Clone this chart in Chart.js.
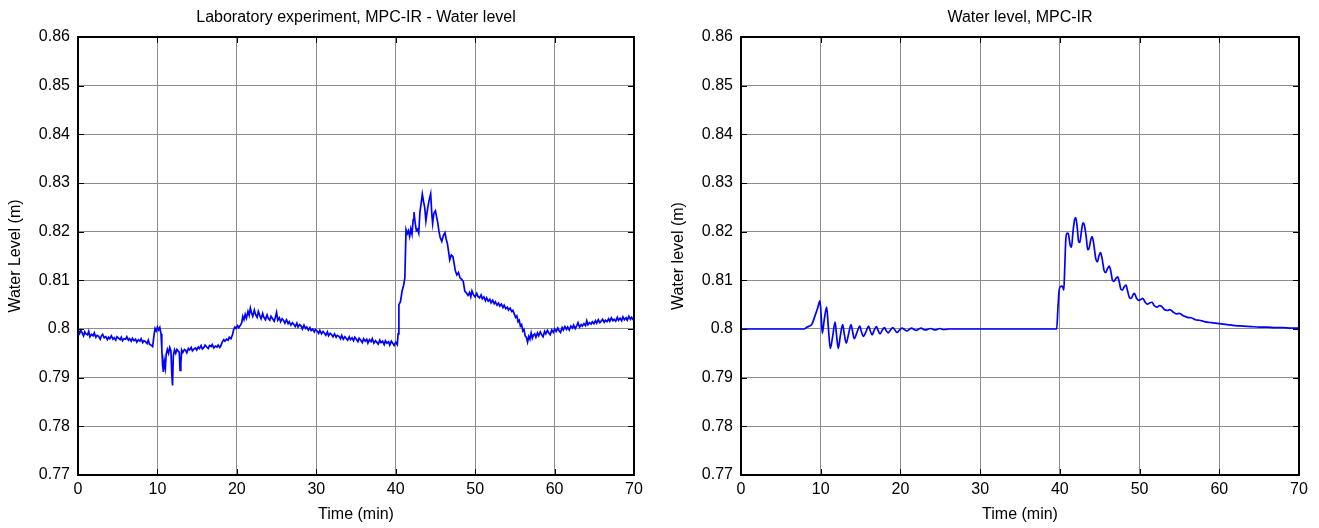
<!DOCTYPE html>
<html>
<head>
<meta charset="utf-8">
<title>Water level, MPC-IR</title>
<script src="https://cdn.jsdelivr.net/npm/chart.js@4/dist/chart.umd.min.js"></script>
<style>
  body { margin: 0; background: #fff; }
  .panel { position: absolute; top: 0; }
</style>
</head>
<body>
<div class="panel" style="left:0"><canvas id="labChart" width="660" height="528"></canvas></div>
<div class="panel" style="left:660px"><canvas id="simChart" width="659" height="528"></canvas></div>
<script>
// axis ticks shared by both panels
const timeTicks = [0, 10, 20, 30, 40, 50, 60, 70];
const levelTicks = [0.77, 0.78, 0.79, 0.80, 0.81, 0.82, 0.83, 0.84, 0.85, 0.86];

// Laboratory experiment: [time (min), water level (m)]
const labPoints = [
  [0, 0.7999], [0.2, 0.7991], [0.35, 0.7997], [0.5, 0.7993], [0.7, 0.7986], [0.85, 0.7994],
  [1.0, 0.7990], [1.2, 0.7988], [1.35, 0.7995], [1.5, 0.7984], [1.7, 0.7989], [1.9, 0.7986],
  [2.05, 0.7992], [2.25, 0.7983], [2.4, 0.7987], [2.6, 0.7985], [2.8, 0.7979], [2.95, 0.7986],
  [3.1, 0.7989], [3.3, 0.7982], [3.5, 0.7984], [3.7, 0.7978], [3.85, 0.7983], [4.0, 0.7980],
  [4.2, 0.7986], [4.4, 0.7979], [4.55, 0.7982], [4.75, 0.7977], [4.9, 0.7984], [5.1, 0.7981],
  [5.3, 0.7978], [5.45, 0.7983], [5.6, 0.7976], [5.8, 0.7980], [6.0, 0.7979], [6.15, 0.7984],
  [6.35, 0.7977], [6.5, 0.7980], [6.7, 0.7975], [6.85, 0.7981], [7.05, 0.7976], [7.25, 0.7979],
  [7.4, 0.7973], [7.6, 0.7978], [7.8, 0.7975], [7.95, 0.7980], [8.15, 0.7972], [8.3, 0.7976],
  [8.5, 0.7974], [8.7, 0.7970], [8.85, 0.7977], [9.0, 0.7969], [9.2, 0.7967], [9.4, 0.7964],
  [9.55, 0.7985], [9.7, 0.8001], [9.85, 0.7996], [10.0, 0.8004], [10.15, 0.7998], [10.3, 0.8003],
  [10.45, 0.7990], [10.55, 0.7960], [10.65, 0.7925], [10.75, 0.7912], [10.85, 0.7935], [11.0, 0.7920],
  [11.1, 0.7948], [11.25, 0.7958], [11.4, 0.7950], [11.55, 0.7962], [11.7, 0.7955], [11.8, 0.7910],
  [11.9, 0.7884], [12.0, 0.7945], [12.15, 0.7957], [12.3, 0.7950], [12.45, 0.7958], [12.6, 0.7955],
  [12.75, 0.7952], [12.85, 0.7915], [12.95, 0.7930], [13.05, 0.7957], [13.2, 0.7952], [13.4, 0.7958],
  [13.55, 0.7956], [13.7, 0.7951], [13.9, 0.7960], [14.05, 0.7957], [14.25, 0.7962], [14.4, 0.7955],
  [14.6, 0.7959], [14.8, 0.7961], [14.95, 0.7957], [15.15, 0.7963], [15.3, 0.7960], [15.5, 0.7966],
  [15.65, 0.7959], [15.85, 0.7962], [16.0, 0.7967], [16.2, 0.7963], [16.4, 0.7960], [16.55, 0.7966],
  [16.75, 0.7964], [16.9, 0.7968], [17.1, 0.7961], [17.3, 0.7965], [17.5, 0.7963], [17.65, 0.7967],
  [17.85, 0.7962], [18.0, 0.7966], [18.15, 0.7973], [18.35, 0.7978], [18.5, 0.7975], [18.7, 0.7979],
  [18.9, 0.7977], [19.05, 0.7983], [19.25, 0.7980], [19.45, 0.7988], [19.6, 0.7999], [19.75, 0.8004],
  [19.9, 0.8001], [20.1, 0.8007], [20.25, 0.8003], [20.45, 0.8008], [20.6, 0.8012], [20.75, 0.8026],
  [20.9, 0.8019], [21.05, 0.8030], [21.2, 0.8022], [21.4, 0.8036], [21.55, 0.8028], [21.7, 0.8043],
  [21.85, 0.8033], [22.0, 0.8026], [22.2, 0.8039], [22.35, 0.8030], [22.55, 0.8024], [22.7, 0.8036],
  [22.9, 0.8027], [23.05, 0.8021], [23.25, 0.8032], [23.4, 0.8024], [23.6, 0.8019], [23.8, 0.8029],
  [23.95, 0.8022], [24.15, 0.8018], [24.3, 0.8026], [24.5, 0.8021], [24.7, 0.8016], [24.85, 0.8024],
  [25.0, 0.8034], [25.15, 0.8018], [25.35, 0.8023], [25.5, 0.8015], [25.7, 0.8021], [25.9, 0.8017],
  [26.05, 0.8012], [26.25, 0.8019], [26.45, 0.8011], [26.6, 0.8015], [26.8, 0.8008], [27.0, 0.8013],
  [27.15, 0.8010], [27.35, 0.8005], [27.55, 0.8012], [27.7, 0.8004], [27.9, 0.8009], [28.1, 0.8006],
  [28.25, 0.8000], [28.45, 0.8008], [28.65, 0.8001], [28.8, 0.8004], [29.0, 0.7998], [29.2, 0.8003],
  [29.35, 0.7997], [29.55, 0.8000], [29.75, 0.7994], [29.9, 0.7999], [30.1, 0.7996], [30.3, 0.7991],
  [30.45, 0.7997], [30.65, 0.7990], [30.85, 0.7995], [31.0, 0.7992], [31.2, 0.7987], [31.4, 0.7994],
  [31.55, 0.7986], [31.75, 0.7991], [31.95, 0.7988], [32.1, 0.7984], [32.3, 0.7990], [32.5, 0.7983],
  [32.65, 0.7987], [32.85, 0.7985], [33.05, 0.7980], [33.2, 0.7987], [33.4, 0.7979], [33.6, 0.7984],
  [33.75, 0.7981], [33.95, 0.7977], [34.15, 0.7984], [34.3, 0.7978], [34.5, 0.7982], [34.7, 0.7976],
  [34.85, 0.7983], [35.05, 0.7979], [35.25, 0.7974], [35.4, 0.7981], [35.6, 0.7977], [35.8, 0.7972],
  [35.95, 0.7980], [36.15, 0.7975], [36.35, 0.7979], [36.5, 0.7971], [36.7, 0.7978], [36.9, 0.7974],
  [37.05, 0.7980], [37.25, 0.7971], [37.45, 0.7976], [37.6, 0.7973], [37.8, 0.7969], [38.0, 0.7977],
  [38.15, 0.7972], [38.35, 0.7975], [38.55, 0.7968], [38.7, 0.7976], [38.9, 0.7971], [39.1, 0.7974],
  [39.25, 0.7967], [39.45, 0.7975], [39.65, 0.7970], [39.8, 0.7966], [40.0, 0.7973], [40.2, 0.7968],
  [40.3, 0.7990], [40.4, 0.8050], [40.6, 0.8056], [40.8, 0.8078], [41.0, 0.8090], [41.15, 0.8105],
  [41.3, 0.8204], [41.45, 0.8196], [41.6, 0.8202], [41.75, 0.8190], [41.9, 0.8206], [42.05, 0.8195],
  [42.2, 0.8225], [42.3, 0.8240], [42.45, 0.8218], [42.6, 0.8202], [42.75, 0.8205], [42.9, 0.8197],
  [43.05, 0.8240], [43.2, 0.8258], [43.35, 0.8277], [43.5, 0.8262], [43.65, 0.8250], [43.8, 0.8222],
  [43.95, 0.8240], [44.1, 0.8255], [44.25, 0.8268], [44.4, 0.8278], [44.55, 0.8235], [44.65, 0.8217],
  [44.8, 0.8238], [45.0, 0.8243], [45.15, 0.8230], [45.3, 0.8218], [45.45, 0.8200], [45.6, 0.8188],
  [45.8, 0.8180], [46.0, 0.8192], [46.2, 0.8198], [46.35, 0.8185], [46.5, 0.8176], [46.65, 0.8160],
  [46.8, 0.8142], [47.0, 0.8152], [47.2, 0.8149], [47.35, 0.8135], [47.5, 0.8120], [47.7, 0.8111],
  [47.9, 0.8116], [48.1, 0.8105], [48.3, 0.8102], [48.5, 0.8098], [48.7, 0.8078], [48.9, 0.8074],
  [49.1, 0.8069], [49.3, 0.8075], [49.45, 0.8066], [49.6, 0.8078], [49.8, 0.8070], [50.0, 0.8066],
  [50.2, 0.8073], [50.35, 0.8067], [50.55, 0.8064], [50.75, 0.8070], [50.9, 0.8062], [51.1, 0.8066],
  [51.3, 0.8058], [51.45, 0.8064], [51.65, 0.8057], [51.85, 0.8061], [52.0, 0.8054], [52.2, 0.8059],
  [52.4, 0.8052], [52.55, 0.8056], [52.75, 0.8049], [52.95, 0.8053], [53.1, 0.8047], [53.3, 0.8051],
  [53.5, 0.8044], [53.65, 0.8049], [53.85, 0.8042], [54.05, 0.8045], [54.2, 0.8039], [54.4, 0.8043],
  [54.6, 0.8036], [54.75, 0.8038], [54.95, 0.8030], [55.1, 0.8024], [55.25, 0.8027], [55.4, 0.8015],
  [55.55, 0.8018], [55.7, 0.8006], [55.85, 0.8009], [56.0, 0.7996], [56.15, 0.7999], [56.3, 0.7986],
  [56.45, 0.7983], [56.6, 0.7973], [56.75, 0.7985], [56.9, 0.7979], [57.05, 0.7992], [57.2, 0.7981],
  [57.35, 0.7988], [57.5, 0.7990], [57.65, 0.7983], [57.85, 0.7992], [58.0, 0.7986], [58.2, 0.7994],
  [58.35, 0.7989], [58.55, 0.7984], [58.75, 0.7995], [58.9, 0.7990], [59.1, 0.7997], [59.3, 0.7991],
  [59.45, 0.7988], [59.65, 0.7998], [59.85, 0.7993], [60.0, 0.8000], [60.2, 0.7995], [60.4, 0.8002],
  [60.55, 0.7997], [60.75, 0.7993], [60.95, 0.8003], [61.1, 0.7998], [61.3, 0.8005], [61.5, 0.7999],
  [61.65, 0.8004], [61.85, 0.7998], [62.05, 0.8006], [62.25, 0.8002], [62.4, 0.8008], [62.6, 0.8001],
  [62.8, 0.8007], [62.95, 0.8013], [63.15, 0.8004], [63.35, 0.8009], [63.5, 0.8006], [63.7, 0.8011],
  [63.9, 0.8007], [64.05, 0.8017], [64.2, 0.8009], [64.4, 0.8013], [64.6, 0.8010], [64.75, 0.8015],
  [64.95, 0.8011], [65.15, 0.8017], [65.3, 0.8012], [65.5, 0.8019], [65.7, 0.8013], [65.85, 0.8016],
  [66.05, 0.8020], [66.25, 0.8014], [66.4, 0.8018], [66.6, 0.8015], [66.8, 0.8021], [66.95, 0.8016],
  [67.15, 0.8023], [67.35, 0.8017], [67.5, 0.8020], [67.7, 0.8016], [67.9, 0.8024], [68.05, 0.8018],
  [68.25, 0.8022], [68.45, 0.8017], [68.6, 0.8025], [68.8, 0.8019], [69.0, 0.8023], [69.15, 0.8018],
  [69.35, 0.8026], [69.55, 0.8020], [69.7, 0.8024], [69.9, 0.8019], [70.0, 0.8022]
];

// Simulation: [time (min), water level (m)]
const simPoints = [
  [0, 0.8000], [7.9, 0.8000], [8.3, 0.8004], [8.6, 0.8006], [8.9, 0.8010], [9.3, 0.8028],
  [9.6, 0.8042], [9.9, 0.8058], [10.05, 0.8030], [10.2, 0.7991], [10.45, 0.8020], [10.75, 0.8045],
  [10.95, 0.8005], [11.2, 0.7960], [11.5, 0.7985], [11.8, 0.8014], [12.0, 0.7985], [12.2, 0.7960],
  [12.45, 0.7985], [12.75, 0.8009], [12.95, 0.7990], [13.2, 0.7971], [13.5, 0.7990], [13.8, 0.8009],
  [14.0, 0.7995], [14.2, 0.7980], [14.55, 0.7993], [14.9, 0.8006], [15.1, 0.7995], [15.35, 0.7985],
  [15.7, 0.7995], [16.0, 0.8006], [16.2, 0.7997], [16.45, 0.7988], [16.7, 0.7997], [17.0, 0.8005],
  [17.2, 0.7997], [17.45, 0.7990], [17.7, 0.7997], [18.0, 0.8003], [18.2, 0.7997], [18.45, 0.7992],
  [18.75, 0.7998], [19.05, 0.8003], [19.3, 0.7998], [19.6, 0.7993], [19.9, 0.7998], [20.2, 0.8002],
  [20.5, 0.7999], [20.8, 0.7996], [21.1, 0.7999], [21.4, 0.8002], [21.7, 0.7999], [22.0, 0.7997],
  [22.3, 0.8000], [22.6, 0.8002], [22.9, 0.7999], [23.2, 0.7998], [23.5, 0.8000], [23.8, 0.8001],
  [24.1, 0.7999], [24.4, 0.7998], [24.7, 0.8000], [25.0, 0.8001], [25.3, 0.7999], [25.6, 0.7999],
  [26.0, 0.8000], [39.6, 0.8000], [39.75, 0.8040], [39.9, 0.8078], [40.05, 0.8087], [40.3, 0.8088],
  [40.5, 0.8080], [40.6, 0.8120], [40.75, 0.8185], [40.9, 0.8197], [41.05, 0.8196], [41.3, 0.8172],
  [41.45, 0.8168], [41.65, 0.8200], [41.85, 0.8225], [42.0, 0.8229], [42.2, 0.8205], [42.35, 0.8180],
  [42.5, 0.8178], [42.7, 0.8200], [42.9, 0.8218], [43.05, 0.8215], [43.3, 0.8190], [43.5, 0.8163],
  [43.65, 0.8165], [43.9, 0.8185], [44.05, 0.8190], [44.25, 0.8175], [44.5, 0.8145], [44.7, 0.8138],
  [44.9, 0.8150], [45.1, 0.8157], [45.3, 0.8145], [45.55, 0.8120], [45.75, 0.8116], [46.0, 0.8125],
  [46.2, 0.8129], [46.4, 0.8118], [46.6, 0.8100], [46.8, 0.8098], [47.0, 0.8103], [47.25, 0.8107],
  [47.45, 0.8097], [47.65, 0.8082], [47.85, 0.8080], [48.05, 0.8086], [48.3, 0.8090], [48.5, 0.8078],
  [48.75, 0.8064], [48.95, 0.8063], [49.2, 0.8071], [49.35, 0.8073], [49.6, 0.8064], [49.85, 0.8059],
  [50.1, 0.8060], [50.4, 0.8063], [50.7, 0.8055], [51.0, 0.8051], [51.3, 0.8054], [51.55, 0.8055],
  [51.85, 0.8048], [52.2, 0.8045], [52.5, 0.8048], [52.8, 0.8046], [53.1, 0.8040], [53.5, 0.8038],
  [53.8, 0.8040], [54.2, 0.8035], [54.6, 0.8031], [55.0, 0.8032], [55.5, 0.8027], [56.0, 0.8024],
  [56.5, 0.8023], [57.0, 0.8019], [57.5, 0.8018], [58.0, 0.8016], [58.5, 0.8014], [59.0, 0.8013],
  [59.5, 0.8012], [60.0, 0.8011], [60.5, 0.8010], [61.0, 0.8009], [62.0, 0.8007], [63.0, 0.8006],
  [64.0, 0.8005], [65.0, 0.8004], [66.0, 0.8004], [67.0, 0.8003], [68.0, 0.8003], [69.0, 0.8002],
  [70.0, 0.8002]
];

const fontFamily = "'Liberation Sans', Arial, sans-serif";

// box around the plot and short inward tick marks on all four sides
const frameBox = {
  id: 'frameBox',
  afterDraw(chart) {
    const { ctx, chartArea: a, scales: { x, y } } = chart;
    const len = 6;
    ctx.save();
    ctx.strokeStyle = '#000';
    ctx.lineWidth = 1;
    ctx.beginPath();
    x.ticks.forEach(t => {
      const px = Math.round(x.getPixelForValue(t.value)) + 0.5;
      ctx.moveTo(px, a.top); ctx.lineTo(px, a.top + len);
      ctx.moveTo(px, a.bottom); ctx.lineTo(px, a.bottom - len);
    });
    y.ticks.forEach(t => {
      const py = Math.round(y.getPixelForValue(t.value)) + 0.5;
      ctx.moveTo(a.left, py); ctx.lineTo(a.left + len, py);
      ctx.moveTo(a.right, py); ctx.lineTo(a.right - len, py);
    });
    ctx.stroke();
    ctx.lineWidth = 2;
    ctx.strokeRect(a.left, a.top, a.right - a.left, a.bottom - a.top);
    ctx.restore();
  }
};

function makeChart(canvasId, titleText, yTitle, points, yAxisWidth, rightPad, yTitlePad, smooth) {
  const ctx = document.getElementById(canvasId).getContext('2d');
  return new Chart(ctx, {
    type: 'line',
    data: {
      datasets: [{
        data: points.map(([x, y]) => ({ x, y })),
        borderColor: '#0000ff',
        borderWidth: 1.7,
        pointRadius: 0,
        cubicInterpolationMode: smooth ? 'monotone' : 'default',
        tension: 0,
        fill: false
      }]
    },
    options: {
      responsive: false,
      animation: false,
      layout: { padding: { left: 0, right: rightPad, top: 0, bottom: 0 } },
      plugins: {
        legend: { display: false },
        tooltip: { enabled: false },
        title: {
          display: true,
          text: titleText,
          fullSize: false,
          color: '#000',
          font: { family: fontFamily, size: 16, weight: 'normal' },
          padding: { top: 8, bottom: 9.8 }
        }
      },
      scales: {
        x: {
          type: 'linear',
          min: 0,
          max: 70,
          afterBuildTicks: s => { s.ticks = timeTicks.map(v => ({ value: v })); },
          afterFit: s => { s.height = 53; },
          grid: { color: '#8c8c8c', lineWidth: 1, drawTicks: false },
          border: { display: false },
          ticks: {
            color: '#000',
            padding: 5,
            maxRotation: 0,
            font: { family: fontFamily, size: 16 }
          },
          title: {
            display: true,
            text: 'Time (min)',
            color: '#000',
            font: { family: fontFamily, size: 16 },
            padding: { top: 0, bottom: 3.4 }
          }
        },
        y: {
          type: 'linear',
          min: 0.77,
          max: 0.86,
          afterBuildTicks: s => { s.ticks = levelTicks.map(v => ({ value: v })); },
          afterFit: s => { s.width = yAxisWidth; },
          grid: { color: '#8c8c8c', lineWidth: 1, drawTicks: false },
          border: { display: false },
          ticks: {
            color: '#000',
            padding: 8,
            font: { family: fontFamily, size: 16 },
            callback: v => String(Number(v.toFixed(2)))
          },
          title: {
            display: true,
            text: yTitle,
            color: '#000',
            font: { family: fontFamily, size: 16 },
            padding: { top: yTitlePad, bottom: 0 }
          }
        }
      }
    },
    plugins: [frameBox]
  });
}

makeChart('labChart', 'Laboratory experiment, MPC-IR - Water level', 'Water Level (m)', labPoints, 78, 26, 6.4, false);
makeChart('simChart', 'Water level, MPC-IR', 'Water level (m)', simPoints, 81, 20, 9.4, true);
</script>
</body>
</html>
